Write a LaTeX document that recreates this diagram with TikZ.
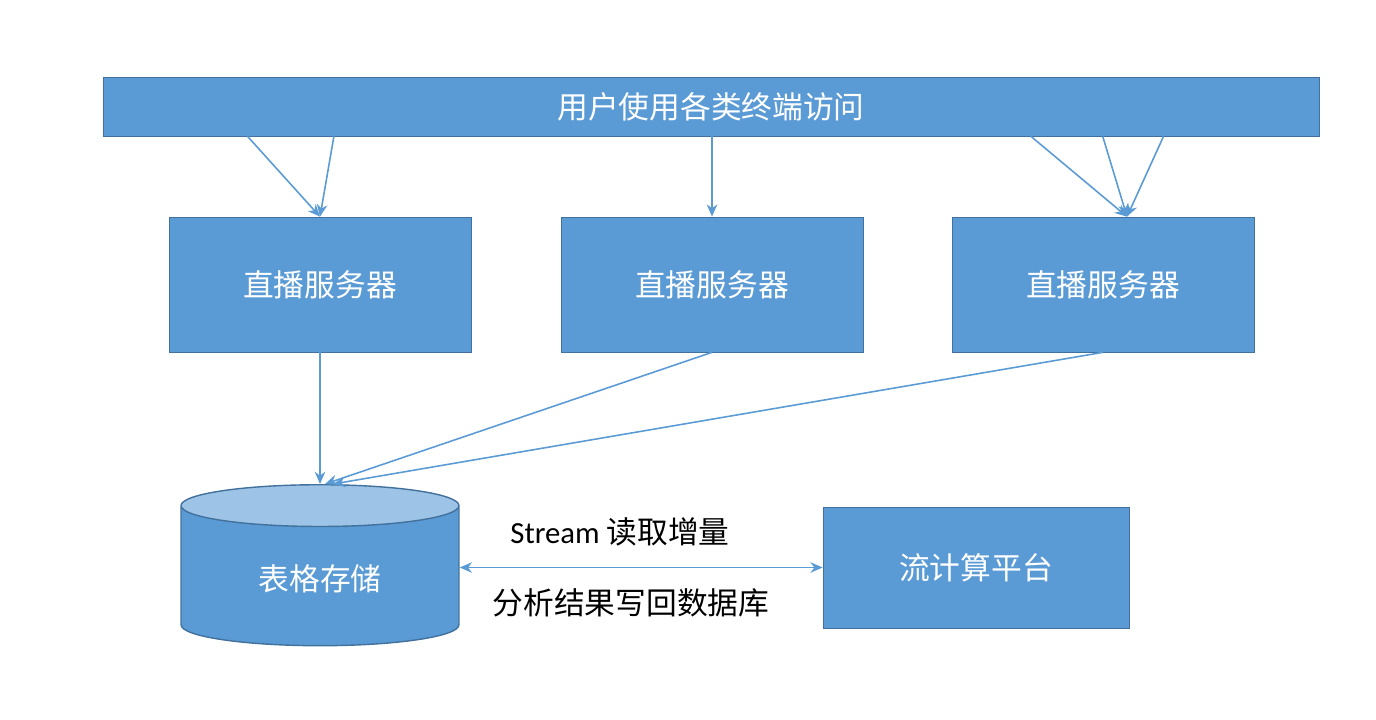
\documentclass[tikz,border=0pt]{standalone}
\usepackage{fontspec}
\setmainfont{Noto Sans CJK SC}
\newfontfamily\latinfont{Carlito}
\usetikzlibrary{positioning, arrows.meta, shapes.geometric, calc}
\definecolor{boxblue}{HTML}{5B9BD5}
\definecolor{edgeblue}{HTML}{41719C}
\definecolor{topblue}{HTML}{9DC3E6}

\begin{document}
\begin{tikzpicture}[
        x=0.02cm, y=-0.02cm,
        bar/.style={draw=edgeblue, fill=boxblue, rectangle, minimum width=24.32cm, minimum height=1.18cm, text=white, font=\fontsize{17.5}{21}\selectfont},
        server/.style={draw=edgeblue, fill=boxblue, rectangle, minimum width=6.04cm, minimum height=2.7cm, text=white, font=\fontsize{17.5}{21}\selectfont},
        store/.style={draw=edgeblue, line width=0.8pt, cylinder, shape border rotate=90, aspect=0.31, minimum width=5.56cm, minimum height=3.22cm, cylinder uses custom fill, cylinder body fill=boxblue, cylinder end fill=topblue, text=white, font=\fontsize{17.5}{21}\selectfont},
        calc/.style={draw=edgeblue, fill=boxblue, rectangle, minimum width=6.12cm, minimum height=2.42cm, text=white, font=\fontsize{17.5}{21}\selectfont},
        note/.style={inner sep=0pt, text=black, font=\fontsize{17.5}{21}\selectfont},
        arrow/.style={-{Stealth[length=7pt, width=6pt]}, draw=boxblue, line width=0.9pt}
    ]
    \useasboundingbox (0,0) rectangle (1376,720);

    \node[bar] (Users) at (711,106.5) {用户使用各类终端访问};

    \node[server] (Live1) at (320,284.5) {直播服务器};
    \node[server] (Live2) at (712,284.5) {直播服务器};
    \node[server] (Live3) at (1103,284.5) {直播服务器};

    \node[store] (Store) at (320,579) {表格存储};
    \node[calc] (Stream) at (976,567.5) {流计算平台};

    \node[note] (ReadInc) at (620,532) {{\latinfont Stream} 读取增量};
    \node[note] (WriteBack) at (631,603) {分析结果写回数据库};

    % terminals to live servers
    \draw[arrow] ($(Users.south west)!0.119!(Users.south east)$) -- (Live1.north);
    \draw[arrow] ($(Users.south west)!0.190!(Users.south east)$) -- (Live1.north);
    \draw[arrow] (Users.south -| Live2.north) -- (Live2.north);
    \draw[arrow] ($(Users.south west)!0.763!(Users.south east)$) -- ([xshift=0.48cm]Live3.north);
    \draw[arrow] ($(Users.south west)!0.822!(Users.south east)$) -- ([xshift=0.48cm]Live3.north);
    \draw[arrow] ($(Users.south west)!0.872!(Users.south east)$) -- ([xshift=0.48cm]Live3.north);

    % live servers to table store
    \draw[arrow] (Live1.south) -- (Store.north);
    \draw[arrow] (Live2.south) -- ([xshift=0.1cm]Store.north);
    \draw[arrow] (Live3.south) -- ([xshift=0.26cm]Store.north);

    \draw[arrow, {Stealth[length=7pt, width=6pt]}-{Stealth[length=7pt, width=6pt]}] (Store.east |- Stream.west) -- (Stream.west);

\end{tikzpicture}
\end{document}
